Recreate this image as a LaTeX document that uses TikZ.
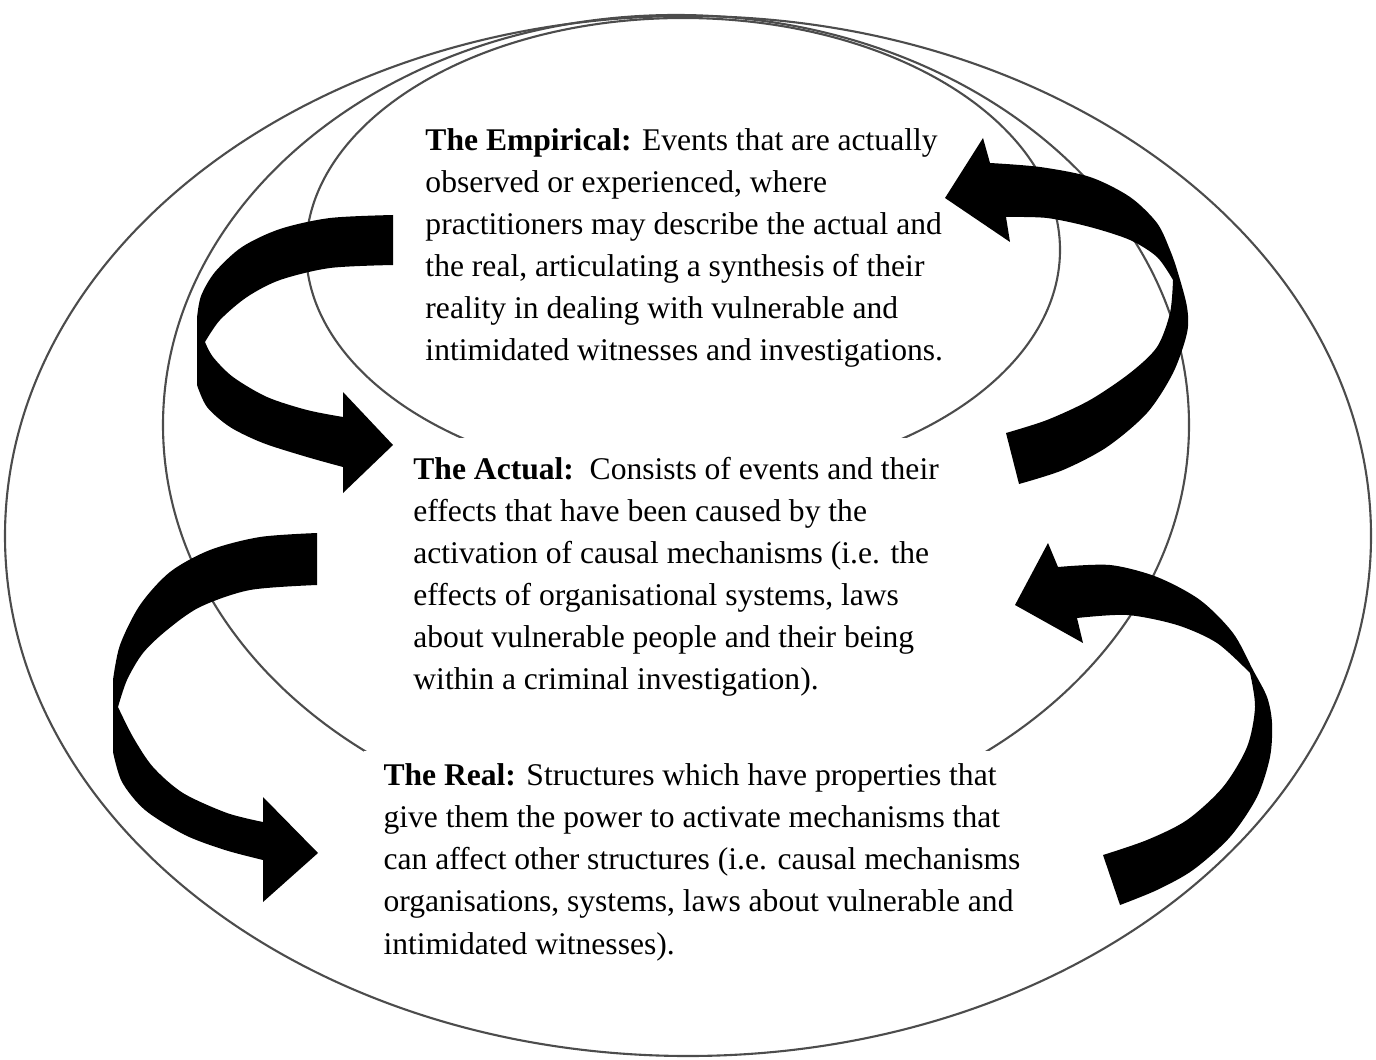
\documentclass[tikz,border=0pt]{standalone}
\usepackage{fontspec}
\setmainfont{Liberation Serif}
\usepackage{tikz}

\tikzset{
  ring/.style={draw=black!70, line width=0.8pt},
  level/.style={fill=white, align=left, anchor=north west,
    font=\fontsize{12pt}{16pt}\selectfont},
  twistarrow/.style={fill=black},
}

\begin{document}
\begin{tikzpicture}[x=0.38pt, y=-0.38pt]
            \useasboundingbox (0,0) rectangle (1376,1059);

            % the three domains, real > actual > empirical
            \draw[ring] (688,536) ellipse [x radius=683, y radius=520];
            \draw[ring] (676,425) ellipse [x radius=513, y radius=410];
            \draw[ring] (683,250) ellipse [x radius=377, y radius=232];

            % texts (white boxes cut the lower arcs)
            \node[level, inner sep=1.5pt] (empirical) at (421,124) {%
                \textbf{The Empirical:} Events that are actually\\
                observed or experienced, where\\
                practitioners may describe the actual and\\
                the real, articulating a synthesis of their\\
                reality in dealing with vulnerable and\\
                intimidated witnesses and investigations.};
            \node[level, inner xsep=4.9pt, inner ysep=7.4pt] (actual) at (400,437) {%
                \textbf{The Actual:}\ \ Consists of events and their\\
                effects that have been caused by the\\
                activation of causal mechanisms (i.e. the\\
                effects of organisational systems, laws\\
                about vulnerable people and their being\\
                within a criminal investigation).};
            \node[level, inner xsep=7.6pt, inner ysep=5pt] (real) at (363,750) {%
                \textbf{The Real:} Structures which have properties that\\
                give them the power to activate mechanisms that\\
                can affect other structures (i.e. causal mechanisms\\
                organisations, systems, laws about vulnerable and\\
                intimidated witnesses).};

            % upper left arrow, empirical down to actual
            \fill[twistarrow] plot[smooth] coordinates {(393,215) (330,218) (280,229) (242,247) (215,272) (201,296) (197,318)}
                -- (197,385)
                -- plot[smooth] coordinates {(197,385) (207,407) (230,427) (263,443) (307,457) (343,467)}
                -- (343,493) -- (393,445) -- (343,392) -- (343,417)
                -- plot[smooth] coordinates {(343,417) (307,410) (267,397) (233,377) (213,357) (205,342)}
                -- plot[smooth] coordinates {(205,342) (220,320) (247,297) (280,280) (330,268) (393,265)}
                -- cycle;

            % lower left arrow, actual down to real
            \fill[twistarrow] plot[smooth] coordinates {(317,533) (260,537) (210,550) (170,572) (140,605) (120,645) (113,680)}
                -- (113,752)
                -- plot[smooth] coordinates {(113,752) (122,782) (145,810) (185,835) (225,850) (263,860)}
                -- (263,902) -- (318,853) -- (263,797) -- (263,822)
                -- plot[smooth] coordinates {(263,822) (227,813) (183,793) (153,767) (133,737) (118,707)}
                -- plot[smooth] coordinates {(118,707) (127,680) (143,653) (167,630) (200,607) (250,590) (317,585)}
                -- cycle;

            % upper right arrow, actual up to empirical
            \fill[twistarrow] plot[smooth] coordinates {(1019,484) (1063,470) (1107,447) (1147,413) (1173,373) (1187,333) (1187,307) (1178,273) (1170,250) (1157,223) (1130,197) (1090,177) (1040,167) (990,163)}
                -- (983,138) -- (945,198) -- (1010,242) -- (1006,217)
                -- plot[smooth] coordinates {(1006,217) (1047,218) (1090,227) (1130,240) (1157,257) (1173,280)}
                -- plot[smooth] coordinates {(1173,280) (1170,313) (1157,347) (1130,373) (1090,400) (1047,420) (1006,433)}
                -- cycle;

            % lower right arrow, real up to actual
            \fill[twistarrow] plot[smooth] coordinates {(1120,905) (1157,890) (1193,870) (1230,837) (1257,797) (1270,757) (1272,723) (1267,697) (1253,670) (1233,633) (1200,600) (1157,577) (1110,565) (1058,567)}
                -- (1048,543) -- (1015,605) -- (1083,643) -- (1077,618)
                -- plot[smooth] coordinates {(1077,618) (1127,615) (1177,625) (1217,643) (1250,673)}
                -- plot[smooth] coordinates {(1250,673) (1255,707) (1247,747) (1223,787) (1187,820) (1147,840) (1103,855)}
                -- cycle;
\end{tikzpicture}
\end{document}
